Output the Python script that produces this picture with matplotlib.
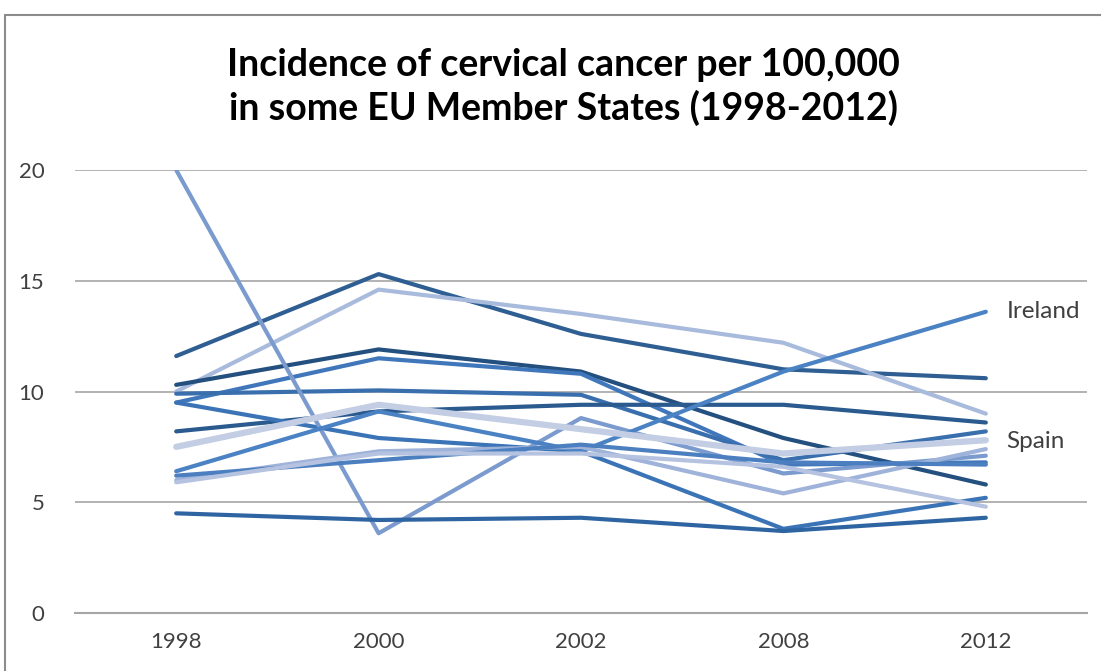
import numpy as np
import matplotlib.pyplot as plt
from matplotlib.patches import Rectangle

plt.rcParams['font.family'] = ['Lato', 'DejaVu Sans']

# Data
years = ['1998', '2000', '2002', '2008', '2012']

s_a = [11.6, 15.3, 12.6, 11.0, 10.6]
s_b = [10.0, 14.6, 13.5, 12.2, 9.0]
s_c = [10.3, 11.9, 10.9, 7.9, 5.8]
s_d = [9.5, 11.5, 10.8, 6.7, 6.8]
s_e = [9.9, 10.05, 9.85, 6.9, 8.2]
s_f = [8.2, 9.1, 9.4, 9.4, 8.6]
s_g = [9.5, 7.9, 7.3, 3.8, 5.2]
s_h = [20.0, 3.6, 8.8, 6.3, 7.1]
ireland = [6.4, 9.1, 7.3, 10.9, 13.6]
spain = [7.5, 9.4, 8.3, 7.2, 7.8]
s_k = [6.0, 7.3, 7.5, 5.4, 7.4]
s_l = [6.2, 6.9, 7.6, 6.8, 6.7]
s_m = [4.5, 4.2, 4.3, 3.7, 4.3]
s_n = [5.9, 7.2, 7.2, 6.6, 4.8]

series = [s_a, s_b, s_c, s_d, s_e, s_f, s_g, s_h, ireland, spain, s_k, s_l, s_m, s_n]
colors = ['#2f5f92', '#a9bbdd', '#24507f', '#3f77ba', '#3a6fae', '#2a5a8e',
          '#3b74b6', '#7b9bcf', '#4a82c4', '#c3cde3', '#9fb3da', '#4c7fc0',
          '#2f64a3', '#b5c3e1']
widths = [3, 3, 3, 3, 3, 3, 3, 3, 3, 4.5, 3, 3, 3, 3]

fig = plt.figure(figsize=(11.01, 6.71), dpi=100)
fig.patches.append(Rectangle((5 / 1101, -0.1), 1.2, 1 - 15 / 671 + 0.1,
                             transform=fig.transFigure, fill=False,
                             edgecolor='#8c8c8c', linewidth=1.5))

ax = fig.add_axes([75 / 1101, 58 / 671, 1012 / 1101, 443 / 671])
x = np.arange(len(years))
for vals, c, w in zip(series, colors, widths):
    ax.plot(x, vals, color=c, linewidth=w, solid_capstyle='round', solid_joinstyle='round')

ax.set_xlim(-0.5, 4.5)
ax.set_ylim(0, 20)
ax.set_yticks([0, 5, 10, 15, 20])
ax.set_xticks(x)
ax.set_xticklabels(years)
ax.yaxis.grid(True, color='#a6a6a6', linewidth=1.2)
ax.set_axisbelow(True)
for sp in ['top', 'right', 'left']:
    ax.spines[sp].set_visible(False)
ax.spines['bottom'].set_color('#a6a6a6')
ax.spines['bottom'].set_linewidth(1.5)
ax.tick_params(length=0, labelsize=16, colors='#404040')
ax.tick_params(axis='y', pad=22)
ax.tick_params(axis='x', pad=14)

ax.text(4.105, ireland[-1], 'Ireland', fontsize=17.5, color='#404040', va='center')
ax.text(4.1, 7.75, 'Spain', fontsize=17.5, color='#404040', va='center')

fig.text(0.512, 0.87, 'Incidence of cervical cancer per 100,000\nin some EU Member States (1998-2012)',
         ha='center', va='center', fontsize=27, fontweight='bold',
         linespacing=1.25)

fig.savefig('out.png', dpi=100)
